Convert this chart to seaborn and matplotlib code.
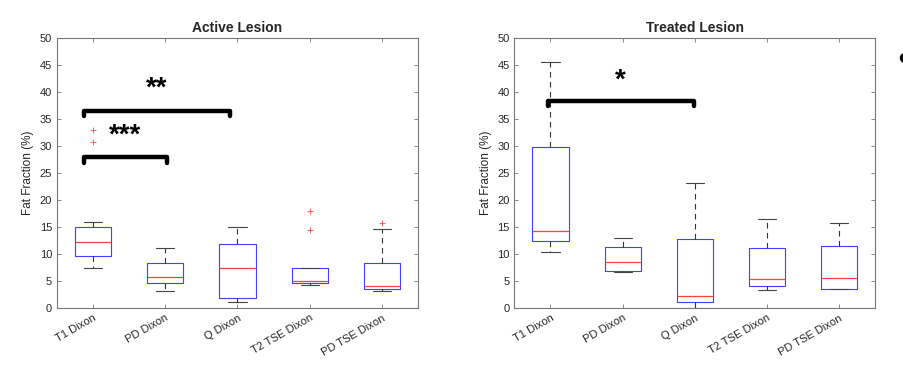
import numpy as np
import pandas as pd
import matplotlib
matplotlib.use("Agg")
import matplotlib.pyplot as plt
from matplotlib.patches import Ellipse
import seaborn as sns

# categories on the x axis
methods = ["T1 Dixon", "PD Dixon", "Q Dixon", "T2 TSE Dixon", "PD TSE Dixon"]

# box summaries (fat fraction, %)
active_lo = [7.4, 3.2, 1.2, 4.2, 3.1]
active_q1 = [9.6, 4.6, 1.8, 4.7, 3.5]
active_med = [12.3, 5.7, 7.4, 5.1, 4.0]
active_q3 = [15.0, 8.3, 11.8, 7.4, 8.3]
active_hi = [15.9, 11.2, 15.1, 7.5, 14.6]
active_flier_group = ["T1 Dixon", "T1 Dixon", "T2 TSE Dixon", "T2 TSE Dixon", "PD TSE Dixon"]
active_flier_value = [32.9, 30.7, 17.9, 14.4, 15.8]

treated_lo = [10.3, 6.6, 0.1, 3.4, 3.5]
treated_q1 = [12.4, 6.9, 1.1, 4.0, 3.5]
treated_med = [14.2, 8.5, 2.2, 5.3, 5.5]
treated_q3 = [29.9, 11.4, 12.7, 11.2, 11.5]
treated_hi = [45.5, 13.0, 23.1, 16.5, 15.7]
treated_flier_group = []
treated_flier_value = []

# significance brackets: (x start, x end, height, stars, star x, star y)
active_sig = [(-0.13, 1.9, 36.5, "**", 0.88, 40.6),
              (-0.13, 1.02, 27.9, "***", 0.44, 31.9)]
treated_sig = [(-0.04, 1.99, 38.4, "*", 0.96, 42.2)]


def long_table(lo, q1, med, q3, hi):
    rows = []
    for i, m in enumerate(methods):
        for v in (lo[i], q1[i], med[i], q3[i], hi[i]):
            rows.append({"Method": m, "FF": v})
    return pd.DataFrame(rows)


sns.set_style("ticks")
plt.rcParams["font.family"] = ["Liberation Sans", "DejaVu Sans"]

fig = plt.figure(figsize=(9.04, 3.88), dpi=100)
ax1 = fig.add_axes([0.063, 0.206, 0.3994, 0.696])
ax2 = fig.add_axes([0.569, 0.206, 0.3994, 0.696])

panels = [
    (ax1, "Active Lesion",
     long_table(active_lo, active_q1, active_med, active_q3, active_hi),
     active_flier_group, active_flier_value, active_sig),
    (ax2, "Treated Lesion",
     long_table(treated_lo, treated_q1, treated_med, treated_q3, treated_hi),
     treated_flier_group, treated_flier_value, treated_sig),
]

for ax, title, df, fg, fv, sig in panels:
    sns.boxplot(data=df, x="Method", y="FF", order=methods, ax=ax,
                whis=(0, 100), width=0.5, fill=False, color="#0000ff",
                linewidth=0.8, showfliers=False,
                boxprops={"color": "#4040ff"},
                medianprops={"color": "#ff4040", "linewidth": 0.9},
                whiskerprops={"color": "#333333", "linestyle": (0, (5, 4)), "linewidth": 0.8},
                capprops={"color": "#444444", "linewidth": 0.8})
    if len(fv):
        sns.scatterplot(x=[methods.index(g) for g in fg], y=fv, ax=ax,
                        marker="+", color="#ff4a4a", s=24, linewidth=0.6)

    for x0, x1, h, stars, tx, ty in sig:
        ax.plot([x0, x0, x1, x1], [h - 1.0, h, h, h - 1.0], color="black",
                linewidth=3.2, solid_capstyle="round", solid_joinstyle="round")
        ax.text(tx, ty, stars, ha="center", va="center", fontsize=20,
                fontweight="bold", color="black")

    ax.set_xlim(-0.5, 4.5)
    ax.set_ylim(0, 50)
    ax.set_yticks(np.arange(0, 51, 5))
    ax.set_title(title, fontsize=10, fontweight="bold", pad=4)
    ax.set_xlabel("")
    ax.set_ylabel("Fat Fraction (%)", fontsize=8.5, color="#262626")
    ax.set_xticks(range(len(methods)))
    ax.set_xticklabels(methods, rotation=30, ha="right", rotation_mode="anchor")
    ax.tick_params(direction="in", length=3, width=0.6, colors="#262626",
                   labelsize=8, top=True, right=True, color="#777777")
    for s in ax.spines.values():
        s.set_color("#777777")
        s.set_linewidth(0.8)

# partial dot at the right edge of the original figure
fig.add_artist(Ellipse((905 / 904, 1 - 58 / 388), width=9 / 904, height=9 / 388,
                       transform=fig.transFigure, color="black"))

fig.savefig("out.png", dpi=100)
